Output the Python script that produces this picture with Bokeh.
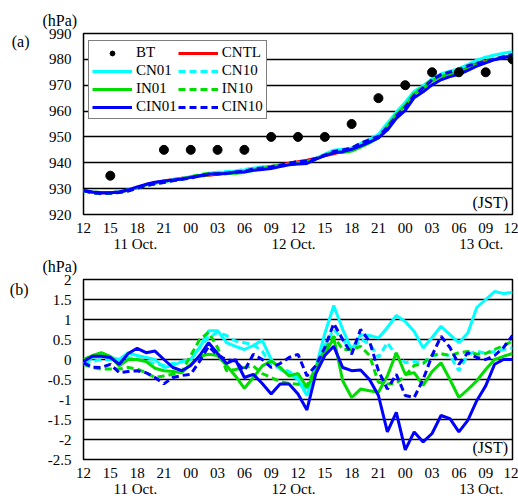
from bokeh.plotting import figure
from bokeh.models import Range1d, FixedTicker, LinearAxis, Label, Legend, LegendItem, Title
from bokeh.layouts import column
from bokeh.embed import file_html
from bokeh.resources import INLINE

# ---------------- data ----------------
hours = list(range(49))  # hours from 12 JST 11 Oct
tick_pos = list(range(0, 49, 3))
tick_labels = ["12", "15", "18", "21", "00", "03", "06", "09", "12",
               "15", "18", "21", "00", "03", "06", "09", "12"]
date_pos = [5.8, 23.5, 44.5]
date_labels = ["11 Oct.", "12 Oct.", "13 Oct."]

bt_hours = [3, 9, 12, 15, 18, 21, 24, 27, 30, 33, 36, 39, 42, 45, 48]
bt_pres = [935, 945, 945, 945, 945, 950, 950, 950, 955, 965, 970, 975, 975, 975, 980]

cntl = [929.3, 928.6, 928.3, 928.4, 928.8, 929.4, 930.4, 931.5, 932.3, 933.0,
        933.5, 934.0, 934.5, 934.9, 935.2, 935.6, 936.0, 936.4, 937.0, 937.5,
        938.0, 938.6, 939.2, 939.8, 940.4, 941.0, 941.8, 942.7, 943.5, 944.5,
        945.5, 946.8, 948.5, 950.5, 954.5, 958.5, 962.5, 967.0, 969.5, 972.0,
        973.5, 974.8, 976.0, 977.3, 978.4, 979.3, 980.0, 980.7, 981.3]

# differences from CNTL (hPa)
cn01 = [-0.1, 0.05, 0.1, 0.05, 0.0, 0.17, 0.1, 0.05, 0.0, -0.2,
        -0.15, -0.05, 0.0, 0.3, 0.72, 0.72, 0.42, 0.33, 0.25, 0.35,
        0.48, 0.0, -0.24, -0.37, -0.5, -0.9, -0.2, 0.65, 1.35, 0.75,
        0.25, 0.62, 0.6, 0.54, 0.8, 1.1, 0.95, 0.7, 0.29, 0.55,
        0.83, 0.62, 0.42, 0.66, 1.3, 1.5, 1.7, 1.65, 1.68]
cn10 = [-0.1, -0.05, 0.0, 0.0, -0.05, 0.05, 0.0, -0.05, -0.1, -0.15,
        -0.1, -0.05, 0.0, 0.3, 0.55, 0.68, 0.6, 0.46, 0.42, 0.37,
        0.21, -0.16, -0.2, -0.3, -0.45, -0.8, -0.2, 0.35, 0.75, 0.5,
        0.2, 0.5, 0.4, 0.05, 0.42, 0.1, -0.08, -0.05, -0.1, 0.1,
        0.13, 0.1, -0.28, 0.13, 0.21, 0.15, 0.2, 0.25, 0.29]
in01 = [0.0, 0.1, 0.17, 0.08, -0.16, 0.0, 0.0, -0.05, -0.22, -0.28,
        -0.3, -0.33, -0.12, 0.08, 0.13, 0.1, -0.15, -0.41, -0.72, -0.45,
        -0.16, -0.04, -0.2, -0.41, -0.35, -0.7, -0.3, 0.15, 0.54, -0.53,
        -0.95, -0.74, -0.78, -0.82, -0.41, 0.17, -0.37, -0.33, -0.65, -0.3,
        -0.08, -0.5, -0.95, -0.75, -0.53, -0.25, 0.0, 0.08, 0.15]
in10 = [-0.12, -0.2, -0.24, -0.24, -0.24, -0.2, -0.24, -0.33, -0.45, -0.41,
        -0.37, -0.3, 0.1, 0.5, 0.68, 0.3, -0.28, -0.25, -0.2, -0.16,
        -0.35, -0.45, -0.55, -0.6, -0.62, -0.65, -0.2, 0.25, 0.58, 0.25,
        0.25, 0.33, 0.1, -0.57, -0.61, -0.6, -0.4, -0.15, -0.1, 0.1,
        0.15, 0.1, 0.17, 0.2, 0.13, 0.15, 0.25, 0.35, 0.46]
cin01 = [-0.05, 0.08, 0.08, 0.05, -0.12, 0.15, 0.28, 0.17, 0.21, 0.0,
         -0.2, -0.28, -0.15, 0.1, 0.42, 0.15, -0.1, 0.0, -0.45, -0.37,
         -0.6, -0.86, -0.61, -0.61, -0.86, -1.26, -0.35, 0.1, 0.33, -0.2,
         -0.28, -0.26, -0.5, -0.9, -1.81, -1.32, -2.26, -1.81, -2.06, -1.85,
         -1.4, -1.48, -1.81, -1.52, -1.03, -0.66, -0.12, 0.0, 0.0]
cin10 = [-0.08, -0.19, -0.2, -0.12, -0.33, -0.3, -0.28, -0.33, -0.45, -0.61,
         -0.45, -0.4, -0.37, -0.04, 0.33, 0.1, 0.0, -0.04, -0.28, 0.13,
         0.0, -0.2, -0.1, 0.05, 0.13, -0.41, -0.15, 0.3, 0.9, 0.5,
         0.13, 0.75, 0.46, -0.28, -0.74, -0.37, -0.9, -0.95, -0.5, 0.1,
         0.58, 0.3, -0.12, 0.17, 0.05, 0.0, 0.1, 0.3, 0.6]

ya_ticks = [920, 930, 940, 950, 960, 970, 980, 990]
ya_labels = ["920", "930", "940", "950", "960", "970", "980", "990"]
yb_ticks = [-2.5, -2, -1.5, -1, -0.5, 0, 0.5, 1, 1.5, 2]
yb_labels = ["-2.5", "-2", "-1.5", "-1", "-0.5", "0", "0.5", "1", "1.5", "2"]

# ---------------- style ----------------
FONT = "Liberation Serif"
FS = "15px"
W = 518
RED, CYAN, GREEN, BLUE = "#ff0000", "#00ffff", "#00dd00", "#0000ff"
DASH = "7 4"
series = [("CN01", cn01, CYAN, "solid"), ("CN10", cn10, CYAN, DASH),
          ("IN01", in01, GREEN, "solid"), ("IN10", in10, GREEN, DASH),
          ("CIN01", cin01, BLUE, "solid"), ("CIN10", cin10, BLUE, DASH)]
FH = 181


def make_fig(height, top, bottom, yr, yticks, ylabels, letter, letter_y):
    p = figure(width=W, height=height, x_range=Range1d(0, 48), y_range=yr,
               output_backend="svg", toolbar_location=None,
               min_border_left=83, min_border_right=6,
               min_border_top=top, min_border_bottom=bottom,
               background_fill_color="white", border_fill_color="white")
    p.outline_line_color = "black"
    p.outline_line_width = 1.5
    p.xgrid.visible = False
    p.ygrid.ticker = FixedTicker(ticks=yticks)
    p.ygrid.grid_line_color = "black"
    p.ygrid.grid_line_width = 1.3
    for ax in (p.xaxis[0], p.yaxis[0]):
        ax.axis_line_color = None
        ax.major_tick_line_color = None
        ax.minor_tick_line_color = None
        ax.major_tick_out = 0
        ax.major_tick_in = 0
        ax.major_label_text_font = FONT
        ax.major_label_text_font_size = FS
        ax.major_label_text_color = "black"
    p.xaxis[0].ticker = FixedTicker(ticks=tick_pos)
    p.xaxis[0].major_label_overrides = {t: l for t, l in zip(tick_pos, tick_labels)}
    p.xaxis[0].major_label_standoff = 8
    p.yaxis[0].ticker = FixedTicker(ticks=yticks)
    p.yaxis[0].major_label_overrides = {t: l for t, l in zip(yticks, ylabels)}
    p.yaxis[0].major_label_standoff = 12
    dax = LinearAxis(ticker=FixedTicker(ticks=date_pos),
                     major_label_overrides={t: l for t, l in zip(date_pos, date_labels)},
                     axis_line_color=None, major_tick_line_color=None,
                     minor_tick_line_color=None, major_tick_out=0, major_tick_in=0,
                     major_label_standoff=0, major_label_text_font=FONT,
                     major_label_text_font_size=FS, major_label_text_color="black")
    p.add_layout(dax, "below")
    # panel letter, shown as an outer left axis label
    lax = LinearAxis(ticker=FixedTicker(ticks=[letter_y]),
                     major_label_overrides={letter_y: letter},
                     axis_line_color=None, major_tick_line_color=None,
                     minor_tick_line_color=None, major_tick_out=0, major_tick_in=0,
                     major_label_standoff=16, major_label_text_font=FONT,
                     major_label_text_font_size="16px", major_label_text_color="black")
    p.add_layout(lax, "left")
    # unit label above the y axis
    p.add_layout(Title(text="(hPa)", align="left", offset=-41, standoff=6,
                       vertical_align="top", text_font=FONT, text_font_size="16px",
                       text_font_style="normal", text_color="black"), "above")
    p.add_layout(Label(x=47.5, y=4, x_units="data", y_units="screen",
                       text="(JST)", text_font=FONT, text_font_size="16px",
                       text_color="black", text_align="right", text_baseline="bottom"))
    return p


# ---------- panel (a) ----------
pa = make_fig(33 + FH + 40, 33, 40, Range1d(920, 990), ya_ticks, ya_labels, "(a)", 986.9)
items = []
r_bt = pa.scatter(bt_hours, bt_pres, size=9, color="black", marker="circle")
r_cntl = pa.line(hours, cntl, line_color=RED, line_width=3)
items.append(LegendItem(label="BT", renderers=[r_bt]))
items.append(LegendItem(label="CNTL", renderers=[r_cntl]))
for name, d, col, dash in series:
    vals = [c + v for c, v in zip(cntl, d)]
    r = pa.line(hours, vals, line_color=col, line_width=3, line_dash=dash)
    items.append(LegendItem(label=name, renderers=[r]))
pa.renderers.remove(r_bt)
pa.renderers.append(r_bt)
leg = Legend(items=items, orientation="horizontal", ncols=2, location=(5, 95),
             label_text_font=FONT, label_text_font_size="15px", label_text_color="black",
             label_standoff=4, glyph_width=40, glyph_height=12, label_height=12,
             spacing=1, padding=3, margin=0,
             border_line_color="black", border_line_width=1.2,
             background_fill_color="white", background_fill_alpha=1.0)
pa.add_layout(leg)

# ---------- panel (b) ----------
pb = make_fig(24 + FH + 43, 24, 43, Range1d(-2.5, 2), yb_ticks, yb_labels, "(b)", 1.75)
for name, d, col, dash in series:
    pb.line(hours, d, line_color=col, line_width=3, line_dash=dash)

layout = column(pa, pb, spacing=0)
open("out.html", "w").write(file_html(layout, INLINE))
